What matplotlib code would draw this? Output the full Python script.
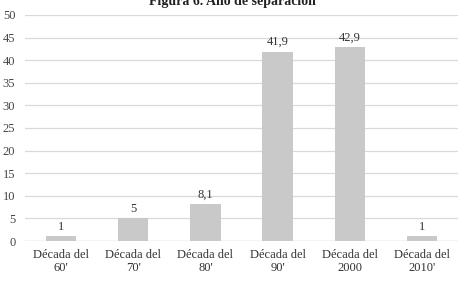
import matplotlib
matplotlib.use("Agg")
import matplotlib.pyplot as plt

categories = ["Década del\n60'", "Década del\n70'", "Década del\n80'", "Década del\n90'", "Década del\n2000", "Década del\n2010'"]
values = [1, 5, 8.1, 41.9, 42.9, 1]
labels = ["1", "5", "8,1", "41,9", "42,9", "1"]
yticks = [0, 5, 10, 15, 20, 25, 30, 35, 40, 45, 50]

plt.rcParams['font.family'] = ['Liberation Serif', 'DejaVu Serif']

fig = plt.figure(figsize=(4.65, 2.82), dpi=100)
ax = fig.add_axes([25/465, 1-241/282, 433/465, 226/282])
x = range(len(categories))
ax.bar(x, values, width=0.42, color="#c9c9c9", zorder=2)
for i, (v, l) in enumerate(zip(values, labels)):
    ax.text(i, v + 0.8, l, ha="center", va="bottom", fontsize=9, color="#333333")
ax.set_ylim(0, 50)
ax.set_xlim(-0.5, len(categories) - 0.5)
ax.set_yticks(yticks)
ax.set_yticklabels([str(t) for t in yticks], fontsize=9, color="#444444")
ax.set_xticks(list(x))
ax.set_xticklabels(categories, fontsize=9, color="#333333", linespacing=1.1)
ax.tick_params(axis="y", length=0, pad=7)
ax.tick_params(axis="x", length=0, pad=6)
ax.grid(axis="y", color="#d9d9d9", linewidth=0.9, zorder=0)
for s in ax.spines.values():
    s.set_visible(False)
ax.axhline(0, color="#d0d0d0", linewidth=0.9, zorder=1)
fig.text(232/465, 1 - 1/282, "Figura 6. Año de separación", ha="center", va="center",
         fontsize=10, fontweight="bold", color="#222222")
fig.savefig("out.png", dpi=100)
